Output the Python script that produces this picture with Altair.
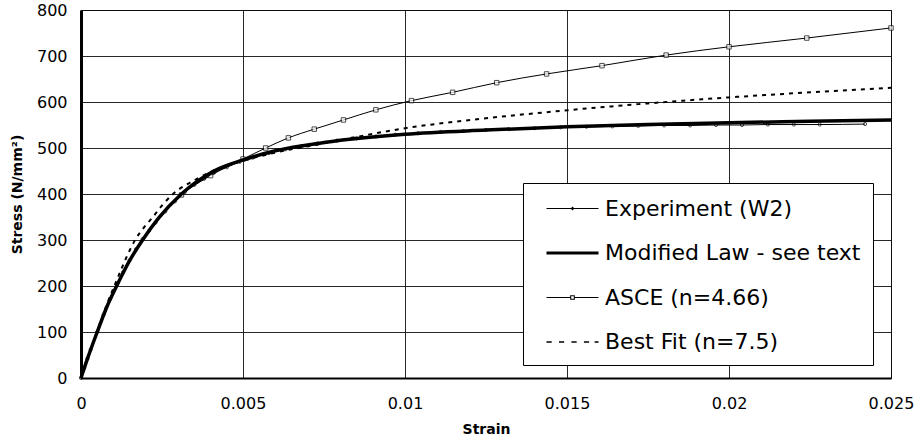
import altair as alt
import pandas as pd

# ---------------- data ----------------
series_names = ["Experiment (W2)", "Modified Law - see text", "ASCE (n=4.66)", "Best Fit (n=7.5)"]

exp_strain = [0, 0.0001, 0.0002, 0.0003, 0.0005, 0.0007, 0.0009, 0.0011, 0.0013, 0.0015,
              0.0017, 0.0019, 0.0021, 0.0023, 0.0026, 0.0029, 0.0032, 0.0035, 0.0038, 0.0041,
              0.0045, 0.0049, 0.0053, 0.0058, 0.0063, 0.0068, 0.0073, 0.0079, 0.0085, 0.0091,
              0.0097, 0.0104, 0.0111, 0.0118, 0.0125, 0.0132, 0.0140, 0.0148, 0.0156, 0.0164,
              0.0172, 0.0180, 0.0188, 0.0196, 0.0204, 0.0212, 0.0220, 0.0228, 0.0242]
exp_stress = [0, 22, 42, 62, 100, 138, 172, 203, 230, 256,
              280, 302, 320, 338, 362, 384, 404, 420, 433, 446,
              458, 470, 479, 489, 497, 504, 510, 516, 521, 525,
              529, 532, 535, 537, 539, 541, 543, 545, 546, 547,
              548, 549, 549, 550, 550, 551, 551, 551, 552]

mod_strain = [0, 0.0002, 0.0005, 0.0008, 0.0011, 0.0015, 0.0019, 0.0024, 0.0031, 0.0041,
              0.005, 0.006, 0.0075, 0.01, 0.0125, 0.015, 0.0175, 0.02, 0.0225, 0.025]
mod_stress = [0, 42, 100, 155, 200, 255, 300, 348, 400, 450,
              474, 494, 512, 530, 539, 546, 551, 555, 558, 561]

asce_strain = [0, 0.0002, 0.0005, 0.0008, 0.0011, 0.0015, 0.0019, 0.0024, 0.0031, 0.004,
               0.005, 0.0057, 0.0064, 0.0072, 0.0081, 0.0091, 0.0102, 0.01147, 0.01283, 0.01437,
               0.01608, 0.01806, 0.0200, 0.0224, 0.0250]
asce_stress = [0, 42, 100, 155, 202, 255, 300, 350, 398, 440,
               476, 500, 522, 541, 561, 583, 603, 621, 642, 661,
               679, 702, 720, 739, 761]
asce_marker_from = 8  # squares drawn from this point on

fit_strain = [0, 0.0002, 0.0005, 0.0008, 0.0011, 0.0014, 0.00167, 0.00195, 0.00222, 0.0025,
              0.00284, 0.0035, 0.004, 0.005, 0.006, 0.0075, 0.0085, 0.01, 0.0123, 0.015,
              0.0175, 0.02, 0.0225, 0.025]
fit_stress = [0, 42, 102, 160, 212, 262, 300, 328, 350, 375,
              400, 430, 448, 472, 490, 510, 524, 543, 563, 582,
              597, 610, 621, 631]

x_ticks = [0, 0.005, 0.01, 0.015, 0.02, 0.025]
y_ticks = [0, 100, 200, 300, 400, 500, 600, 700, 800]

# legend symbols (SVG paths, filled): line + marker, thick line, line + open square, dashes
legend_shapes = [
    "M-2,-0.04H2V0.04H-2ZM-0.15,0L0,-0.15L0.15,0L0,0.15Z",
    "M-2,-0.11H2V0.11H-2Z",
    "M-2,-0.04H-0.18V0.04H-2ZM0.18,-0.04H2V0.04H0.18Z"
    "M-0.18,-0.18H0.18V0.18H-0.18ZM-0.1,-0.1V0.1H0.1V-0.1Z",
    "M-2,-0.06H-1.6V0.06H-2ZM-1.04,-0.06H-0.64V0.06H-1.04ZM-0.08,-0.06H0.32V0.06H-0.08Z"
    "M0.88,-0.06H1.28V0.06H0.88ZM1.7,-0.06H2V0.06H1.7Z",
]

# ---------------- tables ----------------
def frame(name, xs, ys):
    return pd.DataFrame({"series": name, "strain": xs, "stress": ys})

df_exp = frame(series_names[0], exp_strain, exp_stress)
df_mod = frame(series_names[1], mod_strain, mod_stress)
df_asce = frame(series_names[2], asce_strain, asce_stress)
df_asce_pts = df_asce.iloc[asce_marker_from:]
df_fit = frame(series_names[3], fit_strain, fit_stress)
df_key = pd.concat([d.iloc[:1] for d in (df_exp, df_mod, df_asce, df_fit)], ignore_index=True)

FONT = "DejaVu Sans"

x_enc = alt.X("strain:Q", scale=alt.Scale(domain=[0, 0.025], nice=False),
              axis=alt.Axis(values=x_ticks, format="~g", title="Strain"))
y_enc = alt.Y("stress:Q", scale=alt.Scale(domain=[0, 800], nice=False),
              axis=alt.Axis(values=y_ticks, title="Stress (N/mm²)"))

legend = alt.Legend(
    title=None, orient="none", legendX=442, legendY=173,
    symbolSize=676, symbolStrokeColor="black", symbolStrokeWidth=0.5, symbolOpacity=1,
    labelFont=FONT, labelFontSize=22, labelColor="black", labelOffset=19, labelLimit=600,
    rowPadding=19.5, padding=12, symbolOffset=24,
    fillColor="white", strokeColor="black",
)

exp_line = alt.Chart(df_exp).mark_line(stroke="black", strokeWidth=1, interpolate="monotone").encode(x=x_enc, y=y_enc)
exp_pts = alt.Chart(df_exp).mark_point(shape="circle", size=10, filled=False, stroke="black",
                                       strokeWidth=1).encode(x=x_enc, y=y_enc)
mod_line = alt.Chart(df_mod).mark_line(stroke="black", strokeWidth=3.5, interpolate="monotone").encode(x=x_enc, y=y_enc)
asce_line = alt.Chart(df_asce).mark_line(stroke="black", strokeWidth=1, interpolate="monotone").encode(x=x_enc, y=y_enc)
asce_pts = alt.Chart(df_asce_pts).mark_point(shape="square", size=20, filled=True, fill="white",
                                              strokeWidth=1, stroke="black").encode(x=x_enc, y=y_enc)
fit_line = alt.Chart(df_fit).mark_line(stroke="black", strokeWidth=2, strokeDash=[4, 5],
                                       interpolate="monotone").encode(x=x_enc, y=y_enc)

# invisible layer that only carries the legend
key = alt.Chart(df_key).mark_point(filled=True, opacity=0, stroke="black", strokeWidth=0.5).encode(
    x=x_enc, y=y_enc,
    color=alt.Color("series:N", scale=alt.Scale(domain=series_names, range=["black"] * 4), legend=legend),
    shape=alt.Shape("series:N", scale=alt.Scale(domain=series_names, range=legend_shapes), legend=legend),
)

chart = alt.layer(fit_line, asce_line, asce_pts, exp_line, exp_pts, mod_line, key).properties(
    width=810, height=368,
    autosize=alt.AutoSizeParams(type="none"),
    padding={"left": 81, "top": 10, "right": 33, "bottom": 65},
    background="white",
).configure_view(
    stroke="black", strokeWidth=1
).configure_axis(
    labelFont=FONT, labelFontSize=16, labelColor="black", labelFlush=False,
    titleFont=FONT, titleFontSize=14, titleFontWeight="bold", titleColor="black",
    grid=True, gridColor="#111111", gridWidth=1, gridOpacity=0.9,
    ticks=False, domainColor="black",
).configure_axisX(
    domainWidth=2, labelPadding=17, titlePadding=11,
).configure_axisY(
    domainWidth=3, labelPadding=14, titlePadding=12,
)

chart.save("out.html", embed_options={"renderer": "svg", "actions": False})
